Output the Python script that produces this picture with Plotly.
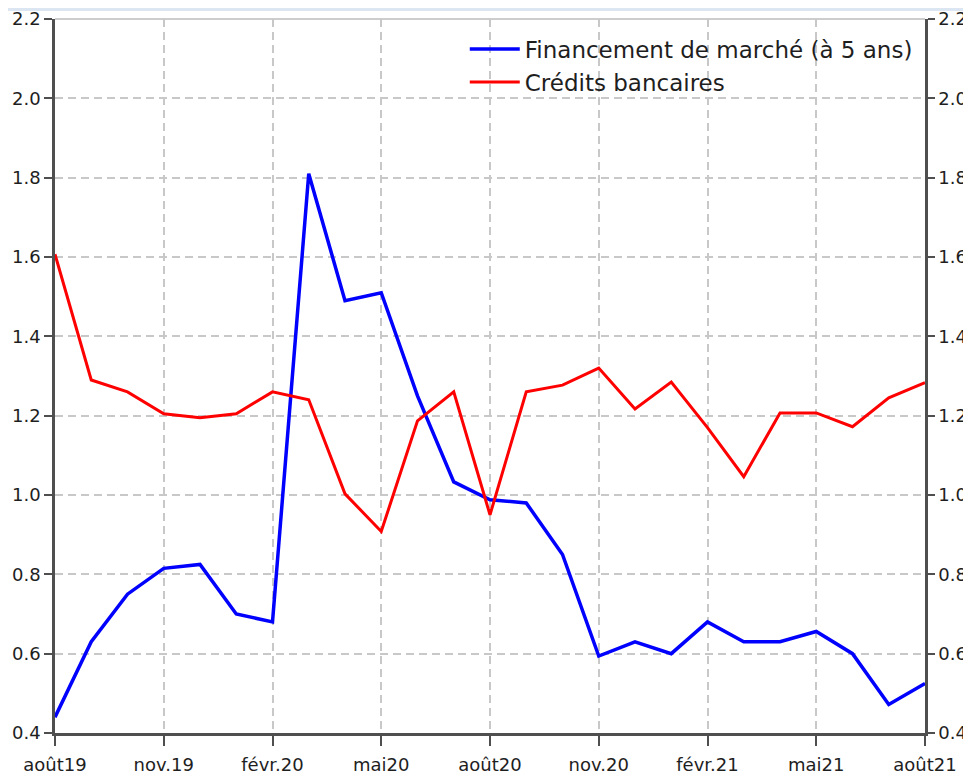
import plotly.graph_objects as go

months = ["août19", "sept.19", "oct.19", "nov.19", "déc.19", "janv.20", "févr.20", "mars20",
          "avr.20", "mai20", "juin20", "juil.20", "août20", "sept.20", "oct.20", "nov.20",
          "déc.20", "janv.21", "févr.21", "mars21", "avr.21", "mai21", "juin21", "juil.21", "août21"]
financement = [0.44, 0.63, 0.75, 0.815, 0.825, 0.70, 0.68, 1.81, 1.49, 1.51, 1.25, 1.033, 0.988,
               0.98, 0.85, 0.594, 0.63, 0.60, 0.68, 0.63, 0.63, 0.656, 0.60, 0.472, 0.525]
credits = [1.607, 1.29, 1.26, 1.205, 1.195, 1.205, 1.26, 1.24, 1.003, 0.908, 1.187, 1.26, 0.95,
           1.26, 1.277, 1.32, 1.217, 1.285, 1.17, 1.046, 1.207, 1.207, 1.172, 1.245, 1.283]
tick_idx = [0, 3, 6, 9, 12, 15, 18, 21, 24]
tick_labels = ["août19", "nov.19", "févr.20", "mai20", "août20", "nov.20", "févr.21", "mai21", "août21"]
y_ticks = [0.4, 0.6, 0.8, 1.0, 1.2, 1.4, 1.6, 1.8, 2.0, 2.2]

x = list(range(len(months)))
font = "DejaVu Sans, Verdana, sans-serif"
txt = "#1e1e1e"

fig = go.Figure()
fig.add_trace(go.Scatter(x=x, y=financement, mode="lines", name="Financement de marché (à 5 ans)",
                         line=dict(color="#0000ff", width=3.5), text=months))
fig.add_trace(go.Scatter(x=x, y=credits, mode="lines", name="Crédits bancaires",
                         line=dict(color="#ff0000", width=3), text=months))
fig.add_trace(go.Scatter(x=x, y=credits, yaxis="y2", mode="lines", showlegend=False,
                         hoverinfo="skip", line=dict(color="rgba(0,0,0,0)", width=0)))

axis_common = dict(showline=True, linecolor="#4f4f4f", linewidth=2.5, ticks="outside",
                   tickcolor="#4f4f4f", tickwidth=1.5, zeroline=False, automargin=False,
                   ticklabeloverflow="allow",
                   tickfont=dict(family=font, size=18, color=txt))
grid = dict(showgrid=True, gridcolor="#c8c8c8", griddash="8px,5px", gridwidth=1.5)

fig.update_layout(
    width=963, height=770,
    margin=dict(l=47, r=46, t=11, b=45),
    paper_bgcolor="white", plot_bgcolor="white",
    font=dict(family=font, color=txt),
    showlegend=True,
    legend=dict(x=0.471, y=0.988, xanchor="left", yanchor="top",
                bgcolor="rgba(0,0,0,0)", font=dict(family=font, size=23, color=txt),
                tracegroupgap=0, itemwidth=50),
    xaxis=dict(range=[0, 24], tickvals=tick_idx, ticktext=tick_labels, ticklen=10,
               ticklabelstandoff=4, **grid, **axis_common),
    yaxis=dict(range=[0.4, 2.2], tickvals=y_ticks, tickformat=".1f", ticklen=8,
               **grid, **axis_common),
    yaxis2=dict(range=[0.4, 2.2], tickvals=y_ticks, tickformat=".1f", ticklen=7,
                overlaying="y", side="right", showgrid=False, **axis_common),
)
fig.add_shape(type="line", xref="paper", yref="paper", x0=0, x1=1, y0=1, y1=1,
              line=dict(color="#bdbdbd", width=1.5), layer="below")
fig.add_shape(type="rect", xref="paper", yref="paper", x0=-0.06, x1=1.06,
              y0=1.0 + 8 / 714, y1=1.0 + 11 / 714, fillcolor="#dce6f2", line=dict(width=0),
              layer="below")

fig.write_html("out.html")
